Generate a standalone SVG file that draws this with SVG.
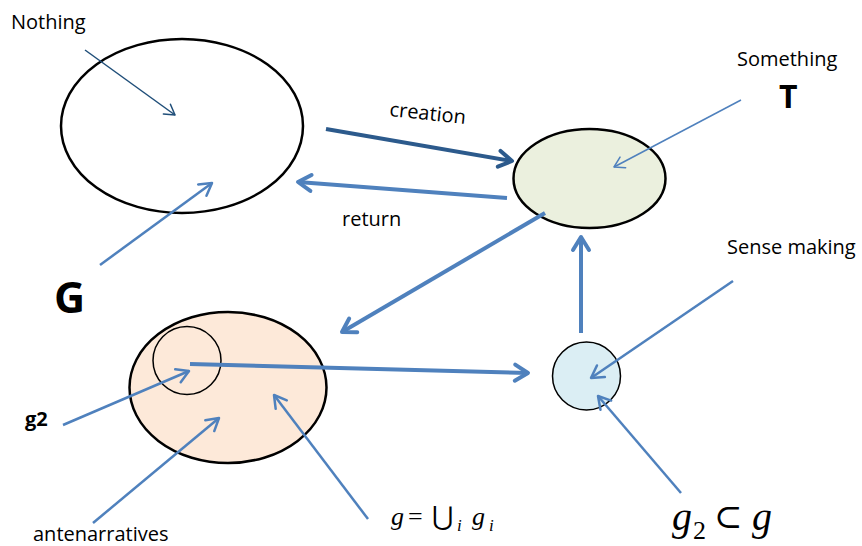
<svg xmlns="http://www.w3.org/2000/svg" width="862" height="546" viewBox="0 0 862 546">
<style>
.lbl{font-family:"Open Sans","Noto Sans","Liberation Sans",sans-serif;font-size:20px;fill:#000}
.bold{font-weight:bold}
.node{stroke:#000}
.c{fill:none;stroke-linecap:butt}
.thick{stroke:#4F81BD;stroke-width:4}
.dark{stroke:#2C5A8C;stroke-width:4}
.med{stroke:#4F81BD;stroke-width:2.5}
.thin{stroke:#4F81BD;stroke-width:1.5}
.thind{stroke:#1F4E79;stroke-width:1.5}
.m1{font-family:"Liberation Serif","DejaVu Serif",serif;fill:#000}
</style>
<defs>
<marker id="aThick" viewBox="-20 -12 24 24" markerWidth="24" markerHeight="24" refX="0" refY="0" orient="auto" markerUnits="userSpaceOnUse">
<path d="M-13,-8 L0,0 L-13,8" fill="none" stroke="#4F81BD" stroke-width="4" stroke-linejoin="round" stroke-linecap="round"/>
</marker>
<marker id="aDark" viewBox="-20 -12 24 24" markerWidth="24" markerHeight="24" refX="0" refY="0" orient="auto" markerUnits="userSpaceOnUse">
<path d="M-13,-8 L0,0 L-13,8" fill="none" stroke="#2C5A8C" stroke-width="4" stroke-linejoin="round" stroke-linecap="round"/>
</marker>
<marker id="aMed" viewBox="-20 -12 24 24" markerWidth="24" markerHeight="24" refX="0" refY="0" orient="auto" markerUnits="userSpaceOnUse">
<path d="M-12,-7 L0,0 L-12,7" fill="none" stroke="#4F81BD" stroke-width="2.5" stroke-linejoin="round" stroke-linecap="round"/>
</marker>
<marker id="aThin" viewBox="-20 -12 24 24" markerWidth="24" markerHeight="24" refX="0" refY="0" orient="auto" markerUnits="userSpaceOnUse">
<path d="M-10,-6 L0,0 L-10,6" fill="none" stroke="#4F81BD" stroke-width="1.5" stroke-linejoin="round" stroke-linecap="round"/>
</marker>
<marker id="aThinD" viewBox="-20 -12 24 24" markerWidth="24" markerHeight="24" refX="0" refY="0" orient="auto" markerUnits="userSpaceOnUse">
<path d="M-10,-6 L0,0 L-10,6" fill="none" stroke="#1F4E79" stroke-width="1.5" stroke-linejoin="round" stroke-linecap="round"/>
</marker>
</defs>

<g id="nothing">
<ellipse class="node" cx="182" cy="126" rx="121" ry="87" fill="#FFFFFF" stroke-width="2.5"/>
<text class="lbl" x="11" y="29">Nothing</text>
</g>

<g id="something">
<ellipse class="node" cx="589.5" cy="178.5" rx="76" ry="49.5" fill="#EBF0DE" stroke-width="2.5"/>
<text class="lbl" x="737" y="66">Something</text>
<text class="lbl bold" x="779" y="108" style="font-size:32px">T</text>
</g>

<g id="antenarratives">
<ellipse class="node" cx="228" cy="387.5" rx="98.5" ry="75.5" fill="#FDE9D9" stroke-width="2.5"/>
<circle class="node" cx="187" cy="360.5" r="34" fill="none" stroke-width="1.5"/>
<text class="lbl bold" x="54" y="313" style="font-size:43px">G</text>
<text class="lbl bold" x="25" y="426" style="font-size:20px">g2</text>
<text class="lbl" x="33" y="541">antenarratives</text>
</g>

<g id="sensemaking">
<circle class="node" cx="586.5" cy="376" r="34" fill="#DBEEF4" stroke-width="1.5"/>
<text class="lbl" x="727" y="254">Sense making</text>
</g>

<g id="formula-union">
<text class="m1" style="font-size:26px" y="525"><tspan x="391" style="font-style:italic">g</tspan><tspan x="408">=</tspan><tspan x="432">⋃</tspan><tspan x="457" y="531" style="font-size:17px;font-style:italic">i</tspan><tspan x="472" y="525" style="font-style:italic">g</tspan><tspan x="489" y="531" style="font-size:17px;font-style:italic">i</tspan></text>
</g>

<g id="formula-subset">
<text class="m1" style="font-size:40px" y="530"><tspan x="672" style="font-style:italic">g</tspan><tspan x="693" y="539" style="font-size:26px">2</tspan><tspan x="714" y="528" style="font-size:34px">⊂</tspan><tspan x="752" y="530" style="font-style:italic">g</tspan></text>
</g>

<g id="connectors">
<line class="c thind" x1="85" y1="50" x2="175" y2="115" marker-end="url(#aThinD)"/>
<line class="c dark" x1="326" y1="129" x2="512" y2="161" marker-end="url(#aDark)"/>
<text class="lbl" x="389" y="116" transform="rotate(6 389 116)">creation</text>
<line class="c thick" x1="507" y1="198" x2="298" y2="182" marker-end="url(#aThick)"/>
<text class="lbl" x="342" y="226">return</text>
<line class="c thin" x1="741" y1="100" x2="614" y2="167" marker-end="url(#aThin)"/>
<line class="c med" x1="100" y1="265" x2="212" y2="183" marker-end="url(#aMed)"/>
<line class="c thick" x1="545" y1="213" x2="342" y2="332" marker-end="url(#aThick)"/>
<line class="c thick" x1="190" y1="364" x2="528" y2="373" marker-end="url(#aThick)"/>
<line class="c thick" x1="581" y1="333" x2="581" y2="237" marker-end="url(#aThick)"/>
<line class="c med" x1="733" y1="281" x2="591" y2="378" marker-end="url(#aMed)"/>
<line class="c med" x1="681" y1="493" x2="598" y2="396" marker-end="url(#aMed)"/>
<line class="c med" x1="63" y1="425" x2="189" y2="371" marker-end="url(#aMed)"/>
<line class="c med" x1="93" y1="523" x2="219" y2="418" marker-end="url(#aMed)"/>
<line class="c med" x1="368" y1="519" x2="274" y2="395" marker-end="url(#aMed)"/>
</g>
</svg>
